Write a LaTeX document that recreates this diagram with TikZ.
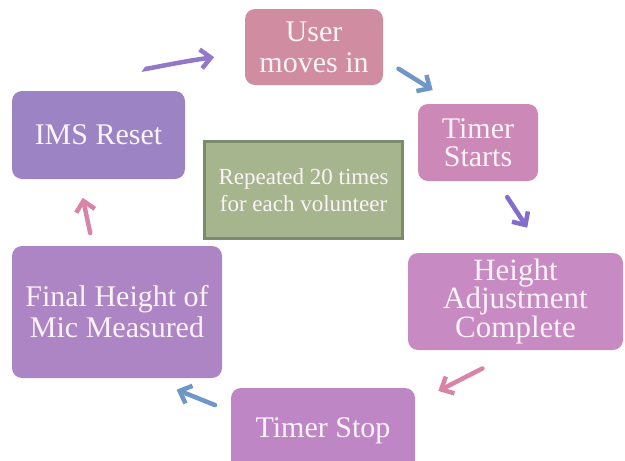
\documentclass[tikz,border=0pt]{standalone}
\usepackage{fontspec}
\setmainfont{Liberation Serif}
\usepackage{tikz}
\usetikzlibrary{positioning,arrows.meta}

\definecolor{userfill}{HTML}{D08CA0}
\definecolor{startfill}{HTML}{CC88B6}
\definecolor{heightfill}{HTML}{C78AC2}
\definecolor{stopfill}{HTML}{BF86C6}
\definecolor{finalfill}{HTML}{AD84C4}
\definecolor{resetfill}{HTML}{9C84C4}
\definecolor{loopfill}{HTML}{A7B58E}
\definecolor{loopline}{HTML}{7B8B6B}
\definecolor{boxtext}{HTML}{FBF3F8}
\definecolor{arrowpurple}{HTML}{9278C8}
\definecolor{arrowblue}{HTML}{6E96C8}
\definecolor{arrowpink}{HTML}{D884A8}

\begin{document}
\begin{tikzpicture}[
    x=1pt, y=-1pt,
    stepbox/.style={rectangle, rounded corners=10pt, text=boxtext, align=center, inner sep=2pt,
        font=\fontsize{30}{31}\selectfont},
    loopbox/.style={rectangle, fill=loopfill, draw=loopline, line width=3pt, text=boxtext,
        align=center, font=\fontsize{23}{27}\selectfont},
    flow/.style={-{Straight Barb[length=10pt,width=19pt]}, line width=4.5pt, line cap=round},
]
    \clip (0,0) rectangle (625,461);

    % Cycle steps
    \node[stepbox, fill=userfill, minimum width=138pt, minimum height=76pt] (user) at (314,47) {User\\moves in};
    \node[stepbox, fill=startfill, minimum width=120pt, minimum height=77pt,
        font=\fontsize{30}{28}\selectfont] (tstart) at (478,142.5) {Timer\\Starts};
    \node[stepbox, fill=heightfill, minimum width=215pt, minimum height=97pt,
        font=\fontsize{31}{28.5}\selectfont] (height) at (515.5,301.5) {Height\\Adjustment\\Complete};
    \node[stepbox, fill=stopfill, minimum width=184pt, minimum height=86pt] (tstop) at (323,431) {Timer Stop};
    \node[stepbox, fill=finalfill, minimum width=210pt, minimum height=132pt] (final) at (117,312) {Final Height of\\Mic Measured};
    \node[stepbox, fill=resetfill, minimum width=173pt, minimum height=88pt] (reset) at (98.5,135) {IMS Reset};

    % Centre note
    \node[loopbox, minimum width=198pt, minimum height=97pt] (loop) at (303.5,190) {Repeated 20 times\\for each volunteer};

    % Arrows
    \draw[flow, arrowpurple, shorten <=73pt, shorten >=31pt] (reset.116.5) to[bend left=5] (user.185);
    \draw[flow, arrowblue, shorten <=18pt, shorten >=26pt] (user.-10) -- (tstart.121);
    \draw[flow, arrowpurple!90!blue, shorten <=19pt, shorten >=30pt] (tstart.-64) -- (height.60.4);
    \draw[flow, arrowpink, shorten <=40pt, shorten >=26pt] (height.-87) -- (tstop.17);
    \draw[flow, arrowblue, shorten <=17pt, shorten >=31pt] (tstop.168) -- (final.-65.7);
    \draw[flow, arrowpink, shorten <=13pt, shorten >=19pt] (final.110.3) -- (reset.246.3);
\end{tikzpicture}
\end{document}
